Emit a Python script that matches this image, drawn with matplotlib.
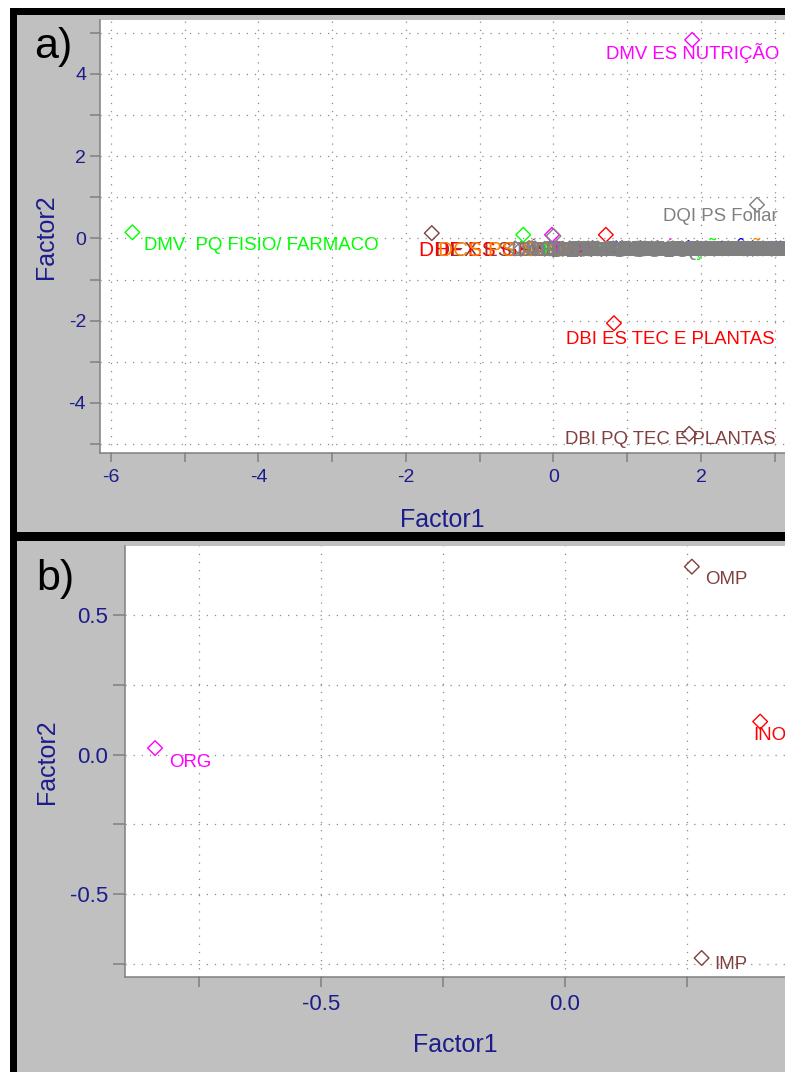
import matplotlib
matplotlib.use("Agg")
import matplotlib.pyplot as plt
from matplotlib.patches import Rectangle
from matplotlib.ticker import MultipleLocator, FuncFormatter

# ---------------- data ----------------
# Panel a) - labelled points away from the centre
a_names = ["DMV  PQ FISIO/ FARMACO", "DMV ES NUTRIÇÃO", "DQI PS Foliar",
           "DBI ES TEC E PLANTAS", "DBI PQ TEC E PLANTAS"]
a_factor1 = [-5.71, 1.88, 2.76, 0.82, 1.84]
a_factor2 = [0.15, 4.83, 0.82, -2.06, -4.75]
a_colors = ["#00ff00", "#ff00ff", "#808080", "#ff0000", "#804040"]

# Panel a) - coloured points of the dense central cluster
c_names = ["DEX ES FÍSICA", "DZO ES NUTRIÇÃO", "DMV ES CLÍNICA", "DHF ES GEBI",
           "DCS PS SOLOS", "DCA ES ALIMENTOS", "DBI ES ORGÂNICA", "DAG ES GRÃOS",
           "DCF ES MADEIRA", "DEG PS IRRIGAÇÃO", "DZO ES PASTAGEM", "DEN PS INSETOS",
           "DMV ES REPRODUÇÃO", "DEX PS SOLO"]
c_factor1 = [-1.65, -0.41, -0.02, 0.71, -0.30, 0.12, 0.85, 1.15,
             1.83, 2.05, 2.58, 2.70, 3.02, 0.00]
c_factor2 = [0.13, 0.09, 0.09, 0.09, -0.24, -0.25, -0.24, -0.24,
             -0.23, -0.25, -0.24, -0.24, -0.24, 0.06]
c_colors = ["#804040", "#00ff00", "#ff00ff", "#ff0000", "#ff8000", "#ff8000",
            "#0000ff", "#ff8000", "#0000ff", "#ff8000", "#00ff00", "#0000ff",
            "#ff00ff", "#808080"]

# Panel a) - grey points of the dense central cluster
g_names = ["DAE ES ECONOMIA", "DAG ES CAFEICULTURA", "DCA PS LATICINIOS", "DCC ES SISTEMAS",
           "DCF PS SILVICULTURA", "DCS ES FERTILIDADE", "DED PS ENSINO", "DEF ES ATIVIDADE",
           "DEG PS MAQUINAS", "DEN ES PRAGAS", "DES PS BIOMETRIA", "DEX ES FISICA",
           "DFP PS VIROLOGIA", "DMV ES ANATOMIA", "DZO PS BOVINOS", "DMV ES PATOLOGIA",
           "DBI PS GENETICA", "DAE ES GESTAO", "DAG PS OLERICULTURA", "DCA ES GRAOS",
           "DCC ES REDES", "DCF ES MANEJO", "DCS PS FISICA", "DED ES LETRAS",
           "DEG ES HIDRAULICA", "DEN PS APICULTURA", "DES ES AMOSTRAGEM", "DEX PS MATEMATICA",
           "DFP ES MICOLOGIA", "DBI PS ECOLOGIA", "DZO ES SUINOS", "DMV PS PARASITOLOGIA",
           "DBI ES BOTANICA", "DAG PS FRUTICULTURA", "DCS ES MICROBIOLOGIA", "DEG PS CONSTRUCOES",
           "DEX ES ESTATISTICA", "DCA PS CARNES", "DAE PS MERCADOS", "DEN ES ACAROLOGIA"]
g_factor1 = [-0.52, -0.44, -0.33, -0.25, -0.12, -0.05, 0.04, 0.13, 0.22, 0.34, 0.41, 0.53,
             0.60, 0.72, 0.81, 0.93, 1.02, 1.11, 1.24, 1.33, 1.41, 1.55, 1.62, 1.74,
             1.86, 1.95, 2.07, 2.18, 2.29, 2.37, 2.51, 2.63, 2.70, 2.84, 2.96, 3.08,
             0.47, 1.18, 2.00, 2.77]
g_factor2 = [-0.24, -0.25, -0.23, -0.24, -0.25, -0.24, -0.23, -0.25, -0.24, -0.24, -0.25, -0.23,
             -0.24, -0.25, -0.24, -0.23, -0.24, -0.25, -0.24, -0.24, -0.23, -0.25, -0.24, -0.24,
             -0.25, -0.23, -0.24, -0.25, -0.24, -0.24, -0.23, -0.25, -0.24, -0.24, -0.25, -0.24,
             -0.24, -0.23, -0.25, -0.24]

# Panel b)
b_names = ["ORG", "OMP", "INO", "IMP"]
b_factor1 = [-0.84, 0.26, 0.40, 0.28]
b_factor2 = [0.023, 0.673, 0.118, -0.729]
b_colors = ["#ff00ff", "#804040", "#ff0000", "#804040"]

# ---------------- layout (label offsets in pixels: right, down to baseline) ----------------
a_offsets = [(12, 17.5), (-86, 19.5), (-94, 16.5), (-48, 20.5), (-124, 10.5)]
c_offsets = [(3, 22.5), (20, 21.5), (2, 21.5), (-187, 21.5), (-93, 7.5), (-4, 7.5), (-4, 7.5),
             (-4, 7.5), (-4, 7.5), (-4, 7.5), (-4, 7.5), (-4, 7.5), (-4, 7.5), (-3, 20.5)]
g_offset = (-4, 7.5)
b_offsets = [(14, 18.5), (13, 17.5), (-7, 18.5), (13, 10.5)]

W, H = 785, 1072
DPI = 100
PT = 72.0 / DPI  # points per pixel
NAVY = "#1c1c8c"
GREY_BG = "#c0c0c0"
LABEL_FS = 13.4
BAND_FS = 15
FONT = ["Liberation Sans", "DejaVu Sans"]
plt.rcParams["font.family"] = FONT

fig = plt.figure(figsize=(W / DPI, H / DPI), dpi=DPI, facecolor="white")

def fx(px):
    return px / W

def fy(py):
    return 1 - py / H

# frame and grey panels
fig.add_artist(Rectangle((fx(10), 0), 1, fy(8), transform=fig.transFigure,
                         facecolor="black", edgecolor="none", zorder=-3))
fig.add_artist(Rectangle((fx(17), fy(532)), 1, (532 - 15) / H, transform=fig.transFigure,
                         facecolor=GREY_BG, edgecolor="none", zorder=-2))
fig.add_artist(Rectangle((fx(17), 0), 1, fy(541), transform=fig.transFigure,
                         facecolor=GREY_BG, edgecolor="none", zorder=-2))


def style_axes(ax, tick_fs, xtl, ytl):
    ax.set_facecolor("white")
    for s in ("top", "right"):
        ax.spines[s].set_visible(False)
    for s in ("left", "bottom"):
        ax.spines[s].set_color("#808080")
        ax.spines[s].set_linewidth(1.1)
    ax.set_axisbelow(True)
    ax.grid(True, color="#8c8c8c", linestyle=(0, (1, 5.5)), linewidth=0.9)
    ax.tick_params(axis="x", colors="#808080", labelcolor=NAVY, labelsize=tick_fs,
                   length=xtl, width=1.1, pad=5)
    ax.tick_params(axis="y", colors="#808080", labelcolor=NAVY, labelsize=tick_fs,
                   length=ytl, width=1.1, pad=3)


def label_points(ax, xs, ys, names, colors, offsets, z, fs):
    for x, y, n, c, (dx, dy) in zip(xs, ys, names, colors, offsets):
        ax.annotate(n, (x, y), xytext=(dx * PT, -dy * PT), textcoords="offset points",
                    ha="left", va="baseline", color=c, fontsize=fs, zorder=z,
                    annotation_clip=False)

# ---------------- panel a ----------------
axa = fig.add_axes([fx(100), fy(453), (788 - 100) / W, (453 - 20) / H])
axa.set_xlim(-6.149, 3.18)
axa.set_ylim(-5.216, 5.313)
axa.xaxis.set_major_locator(MultipleLocator(1))
axa.yaxis.set_major_locator(MultipleLocator(1))
even = FuncFormatter(lambda v, _: f"{int(round(v))}" if int(round(v)) % 2 == 0 else "")
axa.xaxis.set_major_formatter(even)
axa.yaxis.set_major_formatter(even)
style_axes(axa, 14, 6.5, 7)

ms = 7.5
axa.scatter(g_factor1, g_factor2, marker="D", s=ms ** 2, facecolors="none",
            edgecolors="#808080", linewidths=1, zorder=3)
axa.scatter(c_factor1, c_factor2, marker="D", s=ms ** 2, facecolors="none",
            edgecolors=c_colors, linewidths=1, zorder=3)
axa.scatter(a_factor1, a_factor2, marker="D", s=ms ** 2, facecolors="none",
            edgecolors=a_colors, linewidths=1, zorder=3)
label_points(axa, c_factor1, c_factor2, c_names, c_colors, c_offsets, 4, BAND_FS)
label_points(axa, g_factor1, g_factor2, g_names, ["#808080"] * len(g_names),
             [g_offset] * len(g_names), 5, BAND_FS)
label_points(axa, a_factor1, a_factor2, a_names, a_colors, a_offsets, 6, LABEL_FS)

axa.set_xlabel("Factor1", fontsize=18, color=NAVY, va="center")
axa.set_ylabel("Factor2", fontsize=18, color=NAVY, va="center")
axa.xaxis.set_label_coords(0.497, -0.155)
axa.yaxis.set_label_coords(-0.0785, 0.5)

# ---------------- panel b ----------------
axb = fig.add_axes([fx(125), fy(977), (788 - 125) / W, (977 - 546) / H])
axb.set_xlim(-0.9016, 0.457)
axb.set_ylim(-0.797, 0.747)
axb.xaxis.set_major_locator(MultipleLocator(0.25))
axb.yaxis.set_major_locator(MultipleLocator(0.25))

def half(v, _):
    if abs(v * 2 - round(v * 2)) < 1e-6:
        r = round(v * 2) / 2
        return f"{r:.1f}".replace("-0.0", "0.0")
    return ""

axb.xaxis.set_major_formatter(FuncFormatter(half))
axb.yaxis.set_major_formatter(FuncFormatter(half))
style_axes(axb, 16, 7, 9)

axb.scatter(b_factor1, b_factor2, marker="D", s=ms ** 2, facecolors="none",
            edgecolors=b_colors, linewidths=1, zorder=3)
label_points(axb, b_factor1, b_factor2, b_names, b_colors, b_offsets, 6, LABEL_FS)

axb.set_xlabel("Factor1", fontsize=18, color=NAVY, va="center")
axb.set_ylabel("Factor2", fontsize=18, color=NAVY, va="center")
axb.xaxis.set_label_coords(0.498, -0.158)
axb.yaxis.set_label_coords(-0.118, 0.5)

# panel letters
fig.text(fx(34), fy(58), "a)", fontsize=31, ha="left", va="baseline", color="black")
fig.text(fx(36), fy(590), "b)", fontsize=31, ha="left", va="baseline", color="black")

fig.savefig("out.png", dpi=DPI, facecolor="white")
